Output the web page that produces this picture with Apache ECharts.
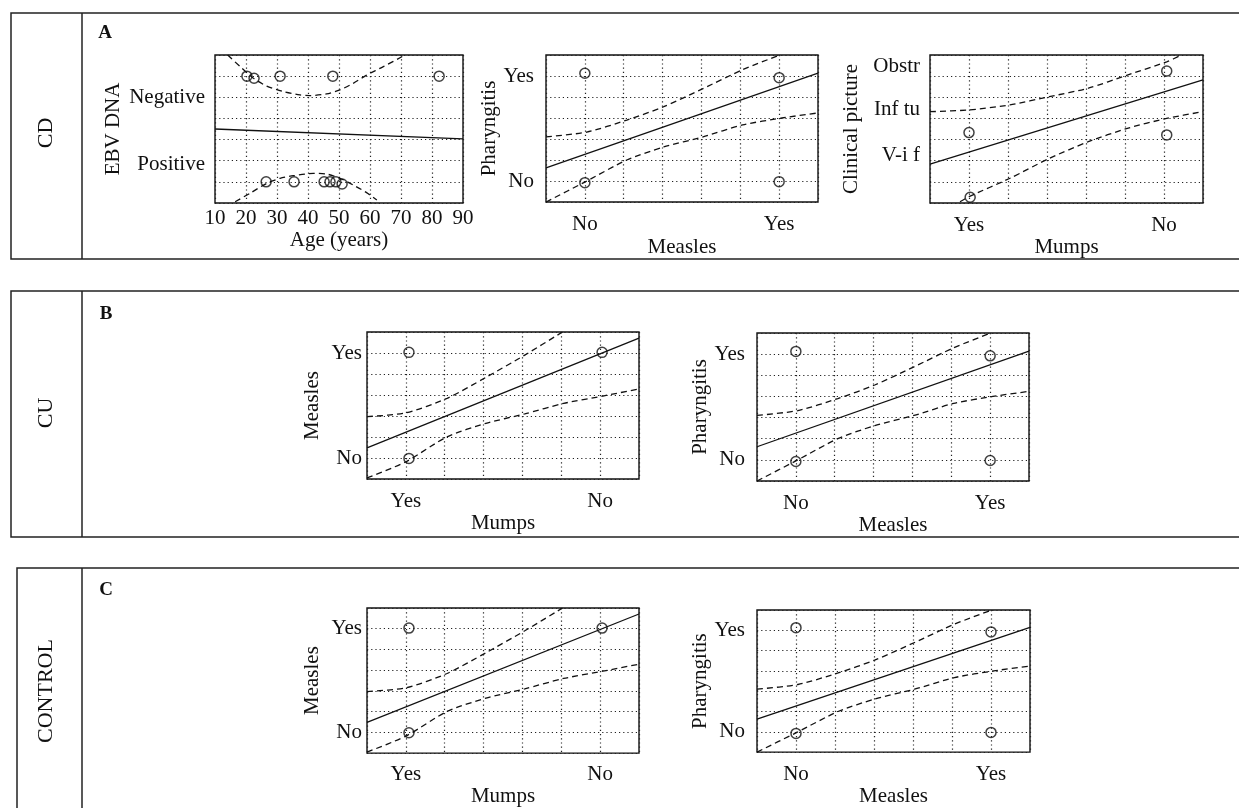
<!DOCTYPE html>
<html>
<head>
<meta charset="utf-8">
<title>Logistic fits</title>
<script src="https://cdn.jsdelivr.net/npm/echarts@6/dist/echarts.min.js"></script>
<style>
  html, body { margin: 0; padding: 0; background: #fff; }
  #chart { width: 1239px; height: 808px; }
</style>
</head>
<body>
<div id="chart"></div>
<script>
// ---- data (x 0..7 / y 0..7 for yes-no plots) ----
const catTicks = [1, 6];
const measlesTickLabels = ['No', 'Yes'];
const mumpsTickLabels = ['Yes', 'No'];
const yesNoTickLabels = ['No', 'Yes'];
const ebvTicks = [1.8, 5];
const ebvTickLabels = ['Positive', 'Negative'];
const clinicalTicks = [2.25, 4.4, 6.45];
const clinicalTickLabels = ['V-i f', 'Inf tu', 'Obstr'];

// A: EBV DNA vs age
const ebvPoints = [[20.3, 6], [22.6, 5.9], [31, 6], [48, 6], [82.3, 6],
  [26.5, 1], [35.5, 1], [45.2, 1], [47.1, 1], [49, 1], [51, 0.9]];
const ebvFit = [[10, 3.5], [90, 3.03]];
const ebvUpper = [[14.1, 7.0], [18.1, 6.45], [22.4, 5.9], [26.7, 5.53], [32.0, 5.27], [37.4, 5.11],
  [40.6, 5.08], [46.0, 5.16], [50.3, 5.35], [54.6, 5.66], [58.9, 6.05], [64.3, 6.45], [71.3, 7.0]];
const ebvLower = [[16.5, 0.06], [21.3, 0.46], [26.7, 0.93], [31.0, 1.17], [35.3, 1.29], [41.7, 1.40],
  [46.0, 1.37], [50.3, 1.17], [54.6, 0.85], [58.9, 0.49], [62.2, 0.14]];

// Pharyngitis vs measles (same in CD, CU, CONTROL)
const pharPoints = [[1, 6.13], [6, 5.92], [1, 0.92], [6, 0.97]];
const pharFit = [[0, 1.62], [7, 6.14]];
const pharUpper = [[0, 3.1], [1.05, 3.33], [2.08, 3.9], [3.03, 4.54], [4.04, 5.4], [5.06, 6.3], [6.02, 7.0]];
const pharLower = [[0, 0], [1, 0.95], [2.08, 2.0], [3.03, 2.62], [4.04, 3.1], [5.06, 3.67], [6.07, 4.0], [7, 4.24]];

// Clinical picture vs mumps (CD)
const clinPoints = [[1.0, 3.33], [6.07, 6.24], [6.07, 3.22], [1.03, 0.27]];
const clinFit = [[0, 1.84], [7, 5.82]];
const clinUpper = [[0, 4.32], [1.0, 4.4], [2.05, 4.64], [3.06, 5.03], [4.06, 5.43], [5.06, 6.05], [6.07, 6.68], [6.45, 7.0]];
const clinLower = [[0.77, 0.06], [1.0, 0.3], [2.05, 1.17], [3.06, 2.11], [4.06, 2.9], [5.06, 3.53], [6.07, 4.0], [7, 4.32]];

// Measles vs mumps (CU, CONTROL)
const measPoints = [[1.08, 6.03], [6.05, 6.03], [1.08, 0.98]];
const measFit = [[0, 1.48], [7, 6.71]];
const measUpper = [[0, 2.97], [1, 3.15], [2.06, 3.84], [3.06, 4.84], [4.06, 5.9], [5.03, 7.0]];
const measLower = [[0, 0.05], [1, 0.82], [2.06, 2.01], [3.06, 2.65], [4.06, 3.1], [5.06, 3.6], [6.07, 3.95], [7, 4.29]];

const FONT = '"Liberation Serif", "Times New Roman", serif';
const dotted = { type: [1.2, 3], color: '#222', width: 1.2 };

function pick(ticks, labels) {
  return function (v) {
    for (let i = 0; i < ticks.length; i++) {
      if (Math.abs(ticks[i] - v) < 1e-6) return labels[i];
    }
    return '';
  };
}

const panels = [
  { grid: [215, 55, 248, 148], xName: 'Age (years)', yName: 'EBV DNA', xGap: 25, yGap: 91, xMargin: 5, yMargin: 10,
    age: true, yTicks: ebvTicks, yLabels: ebvTickLabels,
    pts: ebvPoints, fit: ebvFit, up: ebvUpper, lo: ebvLower },
  { grid: [546, 55, 272, 147], xName: 'Measles', yName: 'Pharyngitis', xGap: 35, yGap: 42, xMargin: 12, yMargin: 12,
    xLabels: measlesTickLabels, yTicks: catTicks, yLabels: yesNoTickLabels,
    pts: pharPoints, fit: pharFit, up: pharUpper, lo: pharLower },
  { grid: [930, 55, 273, 148], xName: 'Mumps', yName: 'Clinical picture', xGap: 30, yGap: 68, xMargin: 12, yMargin: 10,
    xLabels: mumpsTickLabels, yTicks: clinicalTicks, yLabels: clinicalTickLabels,
    pts: clinPoints, fit: clinFit, up: clinUpper, lo: clinLower },
  { grid: [367, 332, 272, 147], xName: 'Mumps', yName: 'Measles', xGap: 32, yGap: 44, xMargin: 12, yMargin: 5,
    xLabels: mumpsTickLabels, yTicks: catTicks, yLabels: yesNoTickLabels,
    pts: measPoints, fit: measFit, up: measUpper, lo: measLower },
  { grid: [757, 333, 272, 148], xName: 'Measles', yName: 'Pharyngitis', xGap: 32, yGap: 43, xMargin: 12, yMargin: 12,
    xLabels: measlesTickLabels, yTicks: catTicks, yLabels: yesNoTickLabels,
    pts: pharPoints, fit: pharFit, up: pharUpper, lo: pharLower },
  { grid: [367, 608, 272, 149], xName: 'Mumps', yName: 'Measles', xGap: 31, yGap: 44, xMargin: 11, yMargin: 5,
    xLabels: mumpsTickLabels, yTicks: catTicks, yLabels: yesNoTickLabels,
    pts: measPoints, fit: measFit, up: measUpper, lo: measLower },
  { grid: [757, 610, 273, 148], xName: 'Measles', yName: 'Pharyngitis', xGap: 33, yGap: 43, xMargin: 12, yMargin: 12,
    xLabels: measlesTickLabels, yTicks: catTicks, yLabels: yesNoTickLabels,
    pts: pharPoints, fit: pharFit, up: pharUpper, lo: pharLower }
];

const grids = [], xAxes = [], yAxes = [], series = [];
const txt = { fontFamily: FONT, fontSize: 21, color: '#111' };

panels.forEach(function (p, i) {
  grids.push({ left: p.grid[0], top: p.grid[1], width: p.grid[2], height: p.grid[3],
    show: true, borderColor: '#111', borderWidth: 1.4, backgroundColor: 'transparent' });

  const xa = { gridIndex: i, type: 'value', axisLine: { show: false }, axisTick: { show: false },
    splitLine: { show: true, lineStyle: dotted },
    name: p.xName, nameLocation: 'middle', nameGap: p.xGap, nameTextStyle: txt };
  if (p.age) {
    xa.min = 10; xa.max = 90; xa.interval = 10;
    xa.axisLabel = Object.assign({ margin: p.xMargin, showMinLabel: true, showMaxLabel: true }, txt);
  } else {
    xa.min = 0; xa.max = 7; xa.interval = 1;
    xa.axisLabel = Object.assign({ margin: p.xMargin, customValues: catTicks,
      formatter: pick(catTicks, p.xLabels) }, txt);
  }
  xAxes.push(xa);

  yAxes.push({ gridIndex: i, type: 'value', min: 0, max: 7, interval: 1,
    axisLine: { show: false }, axisTick: { show: false },
    splitLine: { show: true, lineStyle: dotted },
    axisLabel: Object.assign({ margin: p.yMargin, customValues: p.yTicks,
      formatter: pick(p.yTicks, p.yLabels) }, txt),
    name: p.yName, nameLocation: 'middle', nameGap: p.yGap, nameTextStyle: txt });

  series.push({ type: 'line', xAxisIndex: i, yAxisIndex: i, data: p.fit, showSymbol: false, silent: true,
    lineStyle: { color: '#111', width: 1.3 } });
  [p.up, p.lo].forEach(function (d) {
    series.push({ type: 'line', xAxisIndex: i, yAxisIndex: i, data: d, showSymbol: false, silent: true,
      smooth: 0.25,
      lineStyle: { color: '#111', width: 1.3, type: [6, 4] } });
  });
  series.push({ type: 'scatter', xAxisIndex: i, yAxisIndex: i, data: p.pts, symbol: 'circle', symbolSize: 10,
    z: 5, itemStyle: { color: 'rgba(0,0,0,0)', borderColor: '#111', borderWidth: 1.5 } });
});

function panelBox(x, y, h) {
  return [
    { type: 'rect', shape: { x: x, y: y, width: 1300, height: h },
      style: { fill: 'none', stroke: '#222', lineWidth: 1.5 }, silent: true },
    { type: 'line', shape: { x1: 82, y1: y, x2: 82, y2: y + h },
      style: { stroke: '#222', lineWidth: 1.5 }, silent: true }
  ];
}
function sideLabel(text, cx, cy) {
  return { type: 'text', x: cx, y: cy, rotation: Math.PI / 2, silent: true,
    style: { text: text, align: 'center', verticalAlign: 'middle', fill: '#111',
      font: '22px "Liberation Serif", serif' } };
}
function letter(text, x, y) {
  return { type: 'text', x: x, y: y, silent: true,
    style: { text: text, align: 'center', verticalAlign: 'middle', fill: '#111',
      font: 'bold 19px "Liberation Serif", serif' } };
}

const graphics = [].concat(
  panelBox(11, 13, 246), panelBox(11, 291, 246), panelBox(17, 568, 300),
  [sideLabel('CD', 46, 133), sideLabel('CU', 46, 413), sideLabel('CONTROL', 46, 691),
   letter('A', 105, 33), letter('B', 106, 314), letter('C', 106, 590)]
);

const chart = echarts.init(document.getElementById('chart'));
chart.setOption({
  animation: false,
  backgroundColor: '#fff',
  textStyle: { fontFamily: FONT },
  graphic: graphics,
  grid: grids,
  xAxis: xAxes,
  yAxis: yAxes,
  series: series
});
</script>
</body>
</html>
